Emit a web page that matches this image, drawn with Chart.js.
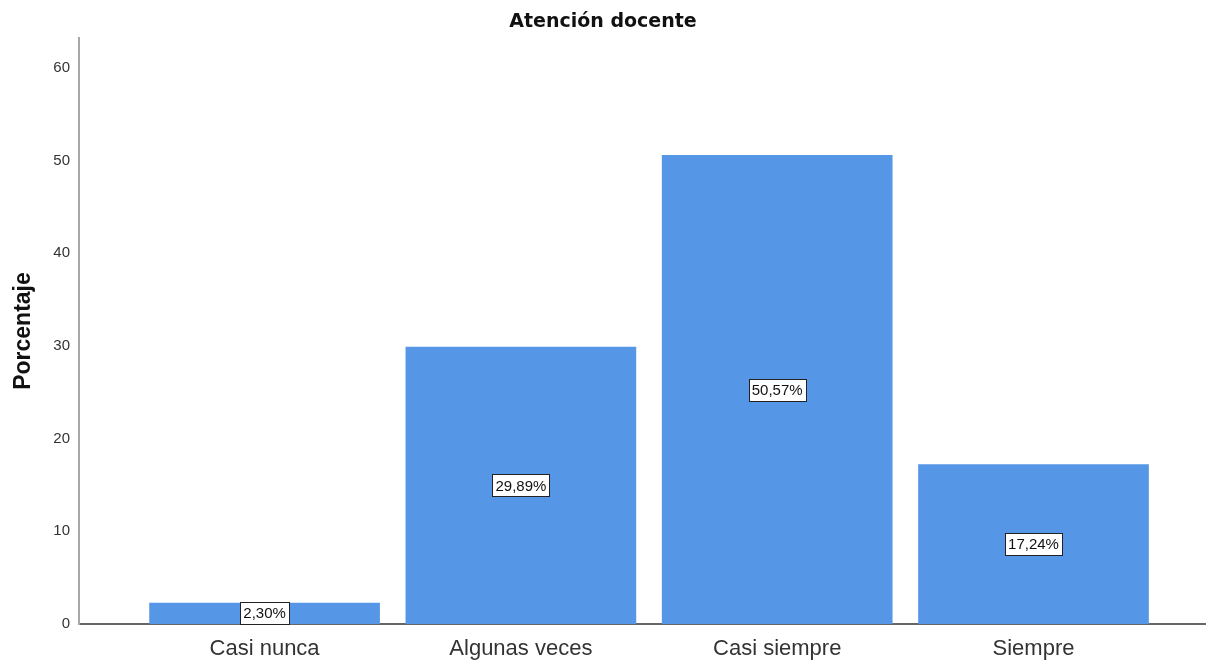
<!DOCTYPE html>
<html>
<head>
<meta charset="utf-8">
<script src="https://cdn.jsdelivr.net/npm/chart.js@4/dist/chart.umd.min.js"></script>
<style>
  html, body { margin: 0; padding: 0; background: #fff; }
  #wrap { width: 1206px; height: 660px; }
</style>
</head>
<body>
<div id="wrap"><canvas id="chart"></canvas></div>
<script>
// Data
const categories = ['Casi nunca', 'Algunas veces', 'Casi siempre', 'Siempre'];
const percentages = [2.30, 29.89, 50.57, 17.24];
const yTicks = [0, 10, 20, 30, 40, 50, 60];

Chart.defaults.font.family = '"Liberation Sans", Arial, sans-serif';
Chart.defaults.color = '#333';

// White boxed value labels at the middle of each bar
const valueBoxes = {
    id: 'valueBoxes',
    afterDatasetsDraw(chart) {
        const ctx = chart.ctx;
        const meta = chart.getDatasetMeta(0);
        const yScale = chart.scales.y;
        ctx.save();
        ctx.font = '15px "Liberation Sans", Arial, sans-serif';
        ctx.textAlign = 'center';
        ctx.textBaseline = 'middle';
        meta.data.forEach((bar, i) => {
            const v = percentages[i];
            const text = v.toFixed(2).replace('.', ',') + '%';
            const x = bar.x;
            const y = yScale.getPixelForValue(v / 2);
            const w = Math.round(ctx.measureText(text).width + 6);
            const h = 22;
            const bx = Math.round(x - w / 2) + 0.5;
            const by = Math.round(y - h / 2) + 0.5;
            ctx.fillStyle = '#fff';
            ctx.fillRect(bx, by, w, h);
            ctx.strokeStyle = '#222';
            ctx.lineWidth = 1;
            ctx.strokeRect(bx, by, w, h);
            ctx.fillStyle = '#111';
            ctx.fillText(text, x, y + 1);
        });
        ctx.restore();
    }
};

const ctx = document.getElementById('chart').getContext('2d');
new Chart(ctx, {
    type: 'bar',
    data: {
        datasets: [{
            data: percentages.map((v, i) => ({ x: i, y: v })),
            backgroundColor: 'rgb(85,150,230)',
            borderWidth: 0,
            barPercentage: 0.9,
            categoryPercentage: 1.0
        }]
    },
    options: {
        responsive: true,
        maintainAspectRatio: false,
        animation: false,
        plugins: {
            legend: { display: false },
            tooltip: { enabled: false },
            title: {
                display: true,
                text: 'Atención docente',
                color: '#111',
                font: { family: '"DejaVu Sans", sans-serif', size: 19, weight: 'bold' },
                padding: { top: 11, bottom: 4.2 }
            }
        },
        scales: {
            x: {
                type: 'linear',
                offset: false,
                min: -0.724,
                max: 3.673,
                grid: { display: false, drawTicks: false },
                border: { display: true, color: '#666', width: 2 },
                afterBuildTicks: axis => { axis.ticks = categories.map((_, i) => ({ value: i })); },
                afterFit: axis => { axis.height = 36; },
                ticks: {
                    padding: 12,
                    color: '#333',
                    font: { size: 22 },
                    maxRotation: 0,
                    autoSkip: false,
                    callback: v => categories[v]
                }
            },
            y: {
                min: 0,
                max: 63.2,
                grid: { display: false, drawTicks: false },
                border: { display: true, color: '#a8a8a8', width: 2 },
                afterBuildTicks: axis => { axis.ticks = yTicks.map(v => ({ value: v })); },
                afterFit: axis => { axis.width = 79; },
                ticks: {
                    padding: 9,
                    color: '#333',
                    font: { size: 15 }
                },
                title: {
                    display: true,
                    text: 'Porcentaje',
                    color: '#111',
                    font: { size: 23, weight: 'bold' },
                    padding: { top: 10, bottom: 4 }
                }
            }
        }
    },
    plugins: [valueBoxes]
});
</script>
</body>
</html>
